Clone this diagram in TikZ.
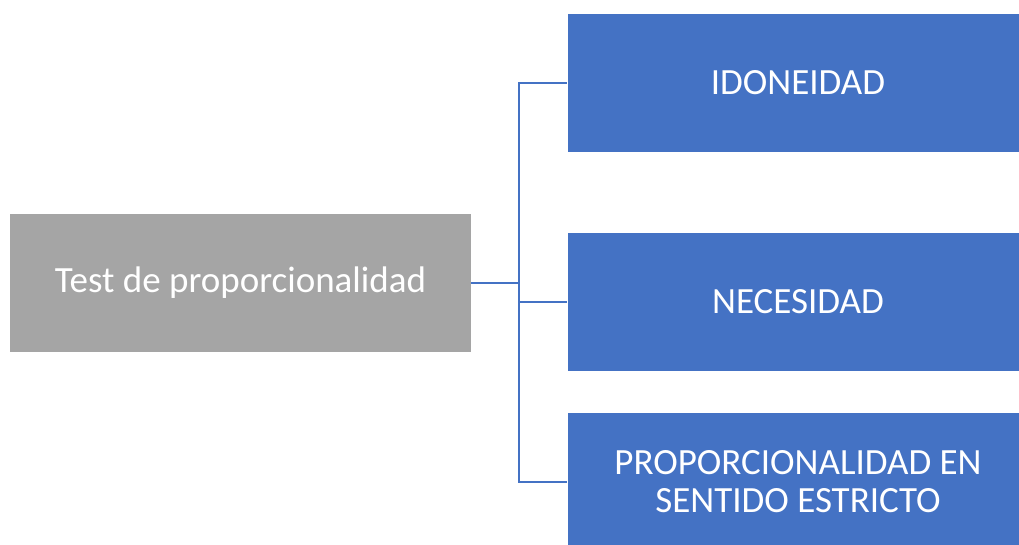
\documentclass[tikz,border=0pt]{standalone}
\usepackage{fontspec}
\setmainfont{Carlito}
\definecolor{boxblue}{HTML}{4472C4}
\definecolor{boxgray}{HTML}{A5A5A5}
\begin{document}
\begin{tikzpicture}[x=1pt,y=-1pt,
  box/.style={rectangle,inner sep=0pt,minimum width=461pt,minimum height=138pt,
    text=white,font=\fontsize{37}{38}\selectfont,align=center},
  conn/.style={draw=boxblue,line width=2.5pt}]
\useasboundingbox[fill=white] (0,0) rectangle (1019,545);
\node[box,fill=boxgray] (root) at (240.5,283) {Test de proporcionalidad};
\node[box,fill=boxblue] (a) at (798,83) {IDONEIDAD};
\node[box,fill=boxblue] (b) at (798,302) {NECESIDAD};
\node[box,fill=boxblue] (c) at (798,482) {PROPORCIONALIDAD EN\\SENTIDO ESTRICTO};
\coordinate (j) at (519,283);
\draw[conn] (root.east) -- (j);
\draw[conn] (j) |- (a.west);
\draw[conn] (j) |- (b.west);
\draw[conn] (j) |- (c.west);
\end{tikzpicture}
\end{document}
